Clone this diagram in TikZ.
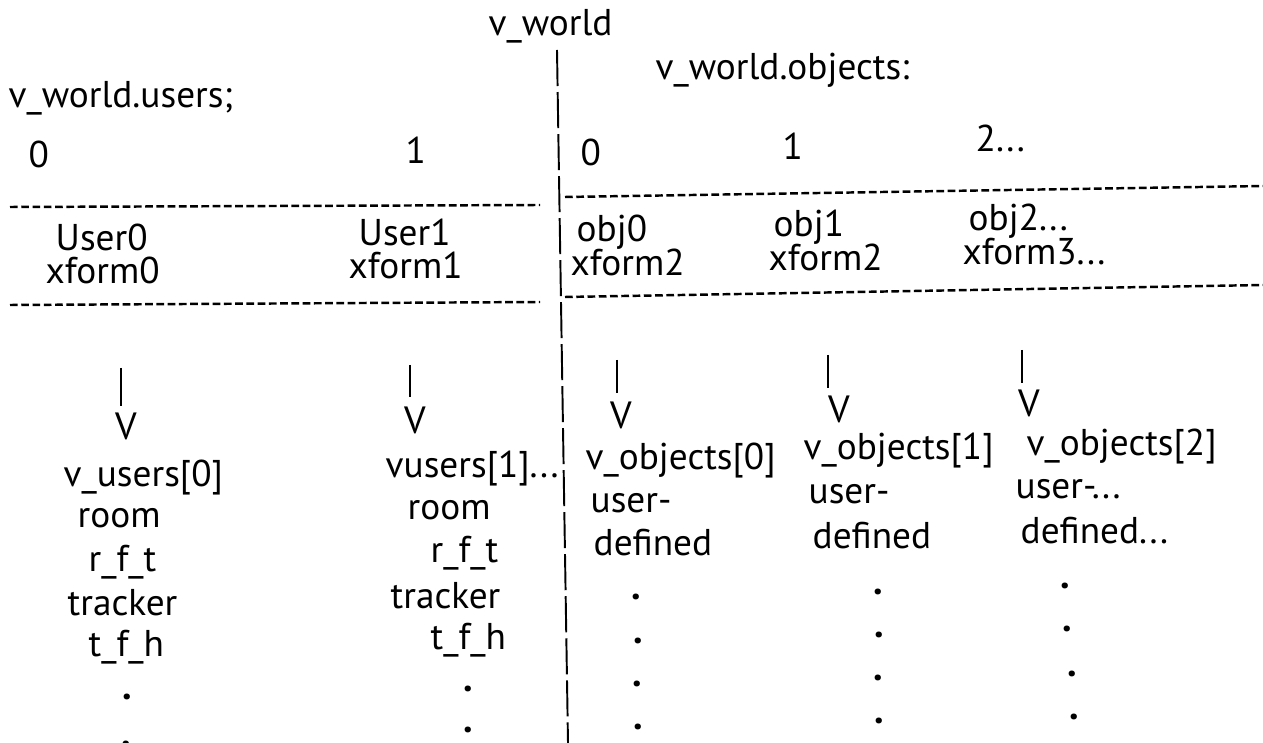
\documentclass[tikz,border=0pt]{standalone}
\usepackage{fontspec}
\setmainfont{PT Sans}
\begin{document}
\begin{tikzpicture}[x=0.01cm, y=-0.01cm,
  lbl/.style={anchor=base west, inner sep=0pt, font=\fontsize{10.6pt}{12pt}\selectfont},
  dotmark/.style={anchor=base west, inner sep=0pt, font=\fontsize{11pt}{12pt}\selectfont\bfseries},
  arrowhead/.style={anchor=base, inner sep=0pt, font=\fontsize{10.8pt}{12pt}\selectfont},
  stem/.style={line width=0.55pt},
  sepline/.style={line width=0.7pt, dash pattern=on 2.2pt off 1pt},
  divider/.style={line width=0.55pt, dash pattern=on 0.36cm off 0.06cm}]
\useasboundingbox (0,0) rectangle (1263,743);

% header labels
\node[lbl] (world) at (488,36) {v\_world};
\node[lbl] (users) at (8,108) {v\_world.users;};
\node[lbl] (objects) at (655,80) {v\_world.objects:};

% index row
\node[lbl] (iu0) at (28,168) {0};
\node[lbl] (iu1) at (405,164) {1};
\node[lbl] (io0) at (580,166) {0};
\node[lbl] (io1) at (782,160) {1};
\node[lbl] (io2) at (975,152) {2...};

% separator lines
\coordinate (s1a) at (10,207);  \coordinate (s1b) at (540,205);
\coordinate (s1c) at (565,197); \coordinate (s1d) at (1263,186);
\coordinate (s2a) at (10,305);  \coordinate (s2b) at (540,302);
\coordinate (s2c) at (565,297); \coordinate (s2d) at (1263,285);
\draw[sepline] (s1a) -- (s1b);
\draw[sepline] (s1c) -- (s1d);
\draw[sepline] (s2a) -- (s2b);
\draw[sepline] (s2c) -- (s2d);

% element row
\node[lbl] (u0) at (55,251) {User0};
\node[lbl] (x0) at (45,284) {xform0};
\node[lbl] (u1) at (358,246) {User1};
\node[lbl] (x1) at (348,279) {xform1};
\node[lbl] (o0) at (576,242) {obj0};
\node[lbl] (x2a) at (570,276) {xform2};
\node[lbl] (o1) at (773,237) {obj1};
\node[lbl] (x2b) at (768,271) {xform2};
\node[lbl] (o2) at (968,231) {obj2...};
\node[lbl] (x3) at (962,265) {xform3...};

% central divider
\coordinate (dtop) at (557,50);
\coordinate (dbot) at (568,743);
\draw[divider] (dtop) -- (dbot);

% pointers
\coordinate (pa) at (121,368);
\coordinate (pb) at (410,365);
\coordinate (pc) at (617,360);
\coordinate (pd) at (828,355);
\coordinate (pe) at (1022,350);
\node[arrowhead] (va) at (126,440) {V};
\node[arrowhead] (vb) at (415,434) {V};
\node[arrowhead] (vc) at (621,429) {V};
\node[arrowhead] (vd) at (839,423) {V};
\node[arrowhead] (ve) at (1029,417) {V};
\draw[stem] (pa) -- ([yshift=0.34cm]va.base -| pa);
\draw[stem] (pb) -- ([yshift=0.37cm]vb.base -| pb);
\draw[stem] (pc) -- ([yshift=0.36cm]vc.base -| pc);
\draw[stem] (pd) -- ([yshift=0.35cm]vd.base -| pd);
\draw[stem] (pe) -- ([yshift=0.34cm]ve.base -| pe);

% user 0 record
\node[lbl] (a1) at (63,487) {v\_users[0]};
\node[lbl] (a2) at (77,528) {room};
\node[lbl] (a3) at (88,572) {r\_f\_t};
\node[lbl] (a4) at (67,616) {tracker};
\node[lbl] (a5) at (88,657) {t\_f\_h};
\node[dotmark] (a6) at (122,700) {.};
\node[dotmark] (a7) at (121,747) {.};

% user 1 record
\node[lbl] (b1) at (385,478) {vusers[1]...};
\node[lbl] (b2) at (407,520) {room};
\node[lbl] (b3) at (430,563) {r\_f\_t};
\node[lbl] (b4) at (390,609) {tracker};
\node[lbl] (b5) at (430,650) {t\_f\_h};
\node[dotmark] (b6) at (463,692) {.};
\node[dotmark] (b7) at (463,733) {.};

% object 0 record
\node[lbl] (c1) at (585,470) {v\_objects[0]};
\node[lbl] (c2) at (590,513) {user-};
\node[lbl] (c3) at (593,556) {defined};
\node[dotmark] (c4) at (631,600) {.};
\node[dotmark] (c5) at (633,643) {.};
\node[dotmark] (c6) at (632,686) {.};
\node[dotmark] (c7) at (633,729) {.};

% object 1 record
\node[lbl] (d1) at (803,460) {v\_objects[1]};
\node[lbl] (d2) at (808,504) {user-};
\node[lbl] (d3) at (812,549) {defined};
\node[dotmark] (d4) at (873,595) {.};
\node[dotmark] (d5) at (874,638) {.};
\node[dotmark] (d6) at (873,681) {.};
\node[dotmark] (d7) at (874,724) {.};

% object 2 record
\node[lbl] (e1) at (1026,456) {v\_objects[2]};
\node[lbl] (e2) at (1015,499) {user-...};
\node[lbl] (e3) at (1020,544) {defined...};
\node[dotmark] (e4) at (1060,589) {.};
\node[dotmark] (e5) at (1062,632) {.};
\node[dotmark] (e6) at (1067,676) {.};
\node[dotmark] (e7) at (1069,719) {.};
\end{tikzpicture}
\end{document}
